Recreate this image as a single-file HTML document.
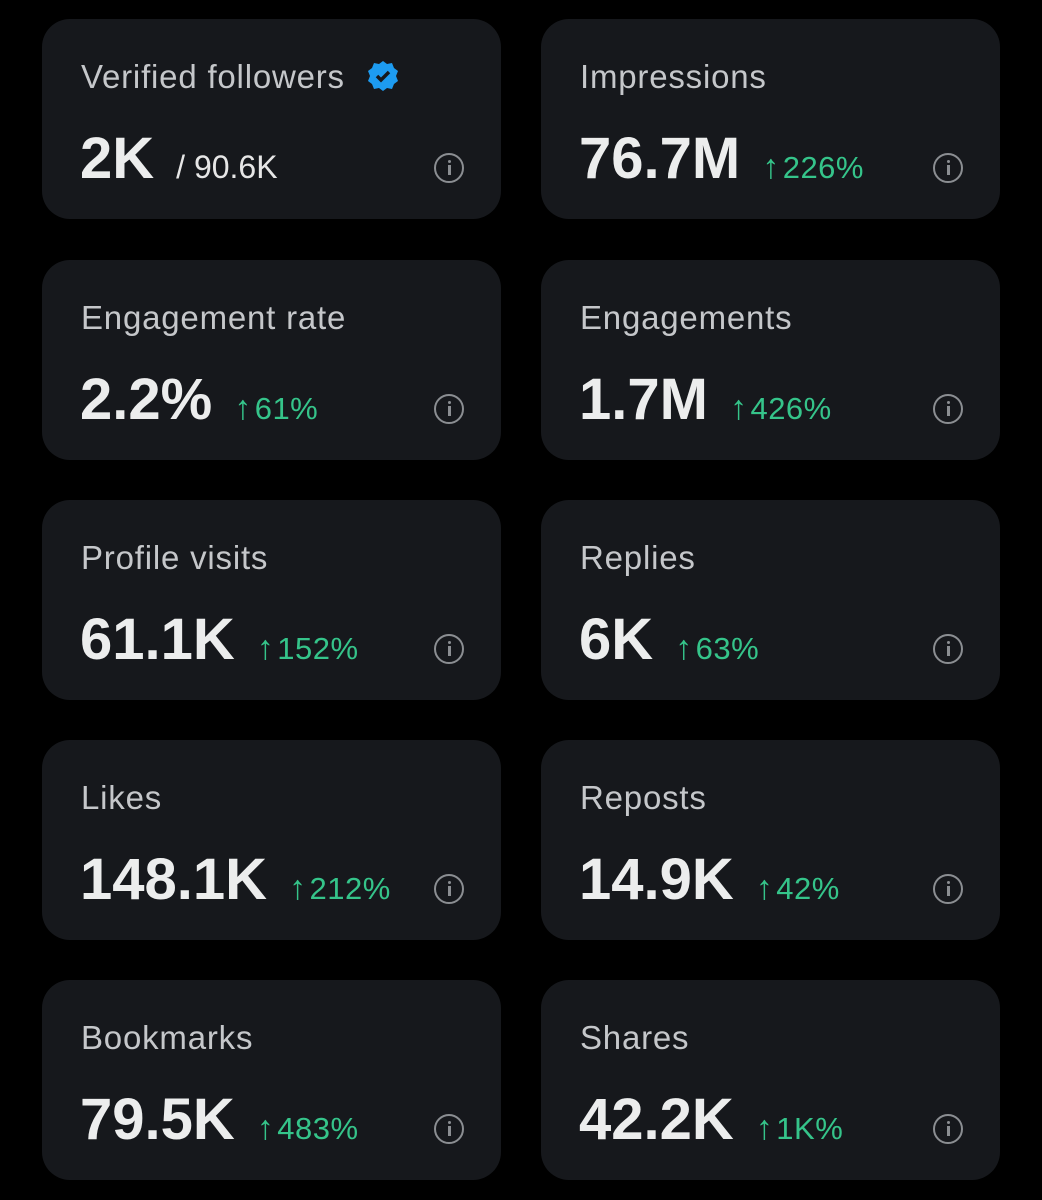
<!DOCTYPE html>
<html><head><meta charset="utf-8"><style>
body{margin:0;width:1042px;height:1200px;background:#000;position:relative;overflow:hidden;font-family:"Liberation Sans",sans-serif}
.card{position:absolute;width:459px;height:200px;background:#16181c;border-radius:28px}
.lbl{position:absolute;left:39px;top:39px;font-size:33px;letter-spacing:0.8px;color:#c5c7ca;white-space:nowrap}
.val{position:absolute;left:38px;top:106px;font-size:58px;font-weight:bold;color:#eceded;white-space:nowrap}
.chg{font-size:31px;font-weight:normal;color:#35c48a;margin-left:22px;letter-spacing:0.5px}
.ar{font-size:34px;margin-right:3px}
.sub{font-size:32px;font-weight:normal;color:#e6e6e6;margin-left:22px;letter-spacing:0}
.info{position:absolute;left:392px;top:134px;width:26px;height:26px;border:2.5px solid #8b8e92;border-radius:50%;}
.info::before{content:"";position:absolute;left:11.5px;top:5px;width:3px;height:3px;background:#8b8e92;border-radius:50%}
.info::after{content:"";position:absolute;left:11.5px;top:10px;width:3px;height:10px;background:#8b8e92}
.badge{display:inline-block;vertical-align:middle;margin-left:22px;margin-top:-6px}
</style></head><body>
<div class="card" style="left:42px;top:19px">
<div class="lbl">Verified followers<svg class="badge" width="32" height="32" viewBox="0 0 32 32"><path d="M16 1l4 3 5-1 2 5 4 3-2 5 2 5-4 3-2 5-5-1-4 3-4-3-5 1-2-5-4-3 2-5-2-5 4-3 2-5 5 1z" fill="#1d9bf0"/><path d="M10 16l4 4 8-8" stroke="#16181c" stroke-width="3.5" fill="none"/></svg></div>
<div class="val">2K<span class="sub">/ 90.6K</span></div>
<div class="info"></div></div>

<div class="card" style="left:541px;top:19px">
<div class="lbl">Impressions</div>
<div class="val">76.7M<span class="chg"><span class="ar">↑</span>226%</span></div>
<div class="info"></div></div>

<div class="card" style="left:42px;top:260px">
<div class="lbl">Engagement rate</div>
<div class="val">2.2%<span class="chg"><span class="ar">↑</span>61%</span></div>
<div class="info"></div></div>

<div class="card" style="left:541px;top:260px">
<div class="lbl">Engagements</div>
<div class="val">1.7M<span class="chg"><span class="ar">↑</span>426%</span></div>
<div class="info"></div></div>

<div class="card" style="left:42px;top:500px">
<div class="lbl">Profile visits</div>
<div class="val">61.1K<span class="chg"><span class="ar">↑</span>152%</span></div>
<div class="info"></div></div>

<div class="card" style="left:541px;top:500px">
<div class="lbl">Replies</div>
<div class="val">6K<span class="chg"><span class="ar">↑</span>63%</span></div>
<div class="info"></div></div>

<div class="card" style="left:42px;top:740px">
<div class="lbl">Likes</div>
<div class="val">148.1K<span class="chg"><span class="ar">↑</span>212%</span></div>
<div class="info"></div></div>

<div class="card" style="left:541px;top:740px">
<div class="lbl">Reposts</div>
<div class="val">14.9K<span class="chg"><span class="ar">↑</span>42%</span></div>
<div class="info"></div></div>

<div class="card" style="left:42px;top:980px">
<div class="lbl">Bookmarks</div>
<div class="val">79.5K<span class="chg"><span class="ar">↑</span>483%</span></div>
<div class="info"></div></div>

<div class="card" style="left:541px;top:980px">
<div class="lbl">Shares</div>
<div class="val">42.2K<span class="chg"><span class="ar">↑</span>1K%</span></div>
<div class="info"></div></div>
</body></html>
